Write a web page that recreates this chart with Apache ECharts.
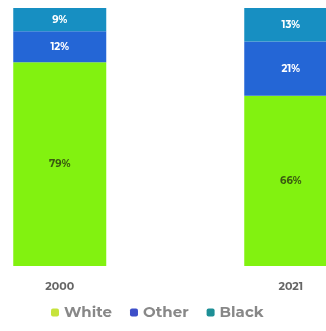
<!DOCTYPE html>
<html><head><meta charset="utf-8">
<script src="https://cdn.jsdelivr.net/npm/echarts@6/dist/echarts.min.js"></script>
<style>html,body{margin:0;padding:0;background:#fff;overflow:hidden}#c{width:350px;height:331px}</style>
</head><body><div id="c"></div>
<script>
const categories = ["2000", "", "2021"];
const white = [79, null, 66];
const other = [12, null, 21];
const black = [9, null, 13];

const chart = echarts.init(document.getElementById('c'));
const FF = 'Montserrat, "Open Sans", sans-serif';
const lbl = (color) => ({show: true, position: 'inside', color: color, fontSize: 10, fontWeight: 'bold', fontFamily: FF, formatter: p => p.value == null ? '' : p.value + '%'});
chart.setOption({
  animation: false,
  grid: {left: 2, top: 8, right: 1.5, bottom: 65},
  legend: {
    bottom: 6, left: 46, itemWidth: 8, itemHeight: 8, icon: 'roundRect', itemGap: 18,
    textStyle: {color: '#888', fontSize: 15, fontWeight: 'bold', fontFamily: FF},
    data: [
      {name: 'White', itemStyle: {color: '#c6e33c'}},
      {name: 'Other', itemStyle: {color: '#3d4fc9'}},
      {name: 'Black', itemStyle: {color: '#1d8f96'}}
    ]
  },
  xAxis: {type: 'category', data: categories, axisLine: {show: false}, axisTick: {show: false},
    axisLabel: {color: '#666', fontSize: 11, fontWeight: 'bold', margin: 15, fontFamily: FF}},
  yAxis: {type: 'value', min: 0, max: 100, show: false},
  series: [
    {name: 'White', type: 'bar', stack: 's', data: white, barWidth: 93, itemStyle: {color: '#82f210'}, label: lbl('#3a5a10')},
    {name: 'Other', type: 'bar', stack: 's', data: other, barWidth: 93, itemStyle: {color: '#2466d6'}, label: lbl('#ffffff')},
    {name: 'Black', type: 'bar', stack: 's', data: black, barWidth: 93, itemStyle: {color: '#178fc2'}, label: lbl('#ffffff')}
  ]
});
</script></body></html>
